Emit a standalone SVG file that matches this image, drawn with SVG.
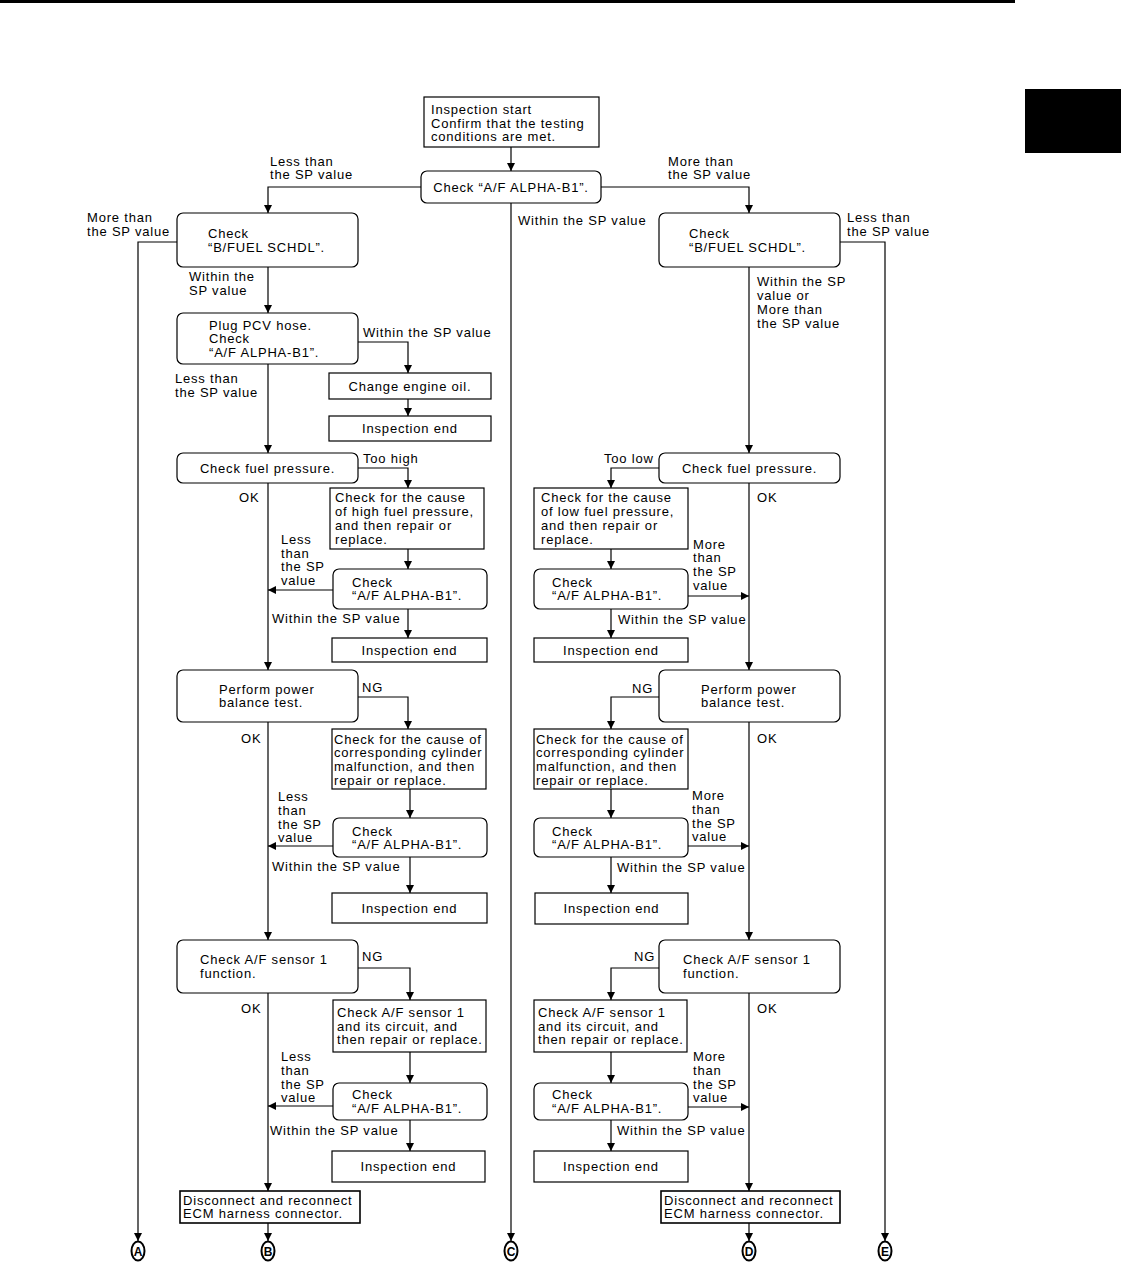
<svg xmlns="http://www.w3.org/2000/svg" width="1121" height="1283" viewBox="0 0 1121 1283">
<style>
.n{fill:#fff;stroke:#000;stroke-width:1.2}
.r{fill:#fff;stroke:#000;stroke-width:1.2}
.d{fill:#fff;stroke:#000;stroke-width:1.6}
text{font-family:"Liberation Sans",Arial,sans-serif;font-size:13px;letter-spacing:0.8px;fill:#000}
.c{text-anchor:middle}
.l{fill:none;stroke:#000;stroke-width:1.2}
.circ{fill:#fff;stroke:#000;stroke-width:2}
.let{font-weight:bold;font-size:12px;letter-spacing:0;text-anchor:middle}
</style>
<defs>
<marker id="ah" viewBox="0 0 10 10" refX="10" refY="5" markerUnits="userSpaceOnUse" markerWidth="8" markerHeight="8" orient="auto">
<path d="M0,0 L10,5 L0,10 z" fill="#000"/>
</marker>
</defs>
<rect x="0" y="0" width="1015" height="3" fill="#000"/>
<rect x="1025" y="89" width="96" height="64" fill="#000"/>

<g id="connectors" class="l" marker-end="url(#ah)">
<path d="M511,147 V171"/>
<path d="M421,187 H268 V213"/>
<path d="M601,187 H749 V213"/>
<path d="M511,203 V1241"/>
<path d="M177,242 H138 V1241"/>
<path d="M268,267 V313"/>
<path d="M358,342 H408 V373"/>
<path d="M268,364 V453"/>
<path d="M408,399 V416"/>
<path d="M358,468 H408 V488"/>
<path d="M268,483 V670"/>
<path d="M408,549 V569"/>
<path d="M333,590 H268"/>
<path d="M408,609 V638"/>
<path d="M358,697 H408 V729"/>
<path d="M268,722 V940"/>
<path d="M410,789 V818"/>
<path d="M333,846 H268"/>
<path d="M410,857 V893"/>
<path d="M358,968 H410 V1000"/>
<path d="M268,993 V1191"/>
<path d="M410,1052 V1083"/>
<path d="M333,1106 H268"/>
<path d="M410,1120 V1151"/>
<path d="M268,1223 V1241"/>
<path d="M840,242 H885 V1241"/>
<path d="M749,267 V453"/>
<path d="M659,468 H611 V488"/>
<path d="M749,483 V670"/>
<path d="M611,549 V569"/>
<path d="M688,596 H749"/>
<path d="M611,609 V638"/>
<path d="M659,697 H611 V729"/>
<path d="M749,722 V940"/>
<path d="M611,789 V818"/>
<path d="M688,846 H749"/>
<path d="M611,857 V893"/>
<path d="M659,968 H611 V1000"/>
<path d="M749,993 V1191"/>
<path d="M611,1052 V1083"/>
<path d="M688,1107 H749"/>
<path d="M611,1120 V1151"/>
<path d="M749,1223 V1241"/>
</g>

<g id="labels">
<text x="270" y="166">Less than</text><text x="270" y="179">the SP value</text>
<text x="668" y="166">More than</text><text x="668" y="179">the SP value</text>
<text x="518" y="225">Within the SP value</text>
<text x="87" y="222">More than</text><text x="87" y="236">the SP value</text>
<text x="189" y="281">Within the</text><text x="189" y="295">SP value</text>
<text x="847" y="222">Less than</text><text x="847" y="236">the SP value</text>
<text x="757" y="286">Within the SP</text><text x="757" y="300">value or</text><text x="757" y="314">More than</text><text x="757" y="328">the SP value</text>
<text x="363" y="337">Within the SP value</text>
<text x="175" y="383">Less than</text><text x="175" y="397">the SP value</text>
<text x="363" y="463">Too high</text>
<text x="239" y="502">OK</text>
<text x="604" y="463">Too low</text>
<text x="757" y="502">OK</text>
<text x="281" y="544">Less</text><text x="281" y="558">than</text><text x="281" y="571">the SP</text><text x="281" y="585">value</text>
<text x="272" y="623">Within the SP value</text>
<text x="693" y="549">More</text><text x="693" y="562">than</text><text x="693" y="576">the SP</text><text x="693" y="590">value</text>
<text x="618" y="624">Within the SP value</text>
<text x="362" y="692">NG</text><text x="241" y="743">OK</text>
<text x="632" y="693">NG</text><text x="757" y="743">OK</text>
<text x="278" y="801">Less</text><text x="278" y="815">than</text><text x="278" y="829">the SP</text><text x="278" y="842">value</text>
<text x="272" y="871">Within the SP value</text>
<text x="692" y="800">More</text><text x="692" y="814">than</text><text x="692" y="828">the SP</text><text x="692" y="841">value</text>
<text x="617" y="872">Within the SP value</text>
<text x="362" y="961">NG</text><text x="241" y="1013">OK</text>
<text x="634" y="961">NG</text><text x="757" y="1013">OK</text>
<text x="281" y="1061">Less</text><text x="281" y="1075">than</text><text x="281" y="1089">the SP</text><text x="281" y="1102">value</text>
<text x="270" y="1135">Within the SP value</text>
<text x="693" y="1061">More</text><text x="693" y="1075">than</text><text x="693" y="1089">the SP</text><text x="693" y="1102">value</text>
<text x="617" y="1135">Within the SP value</text>
</g>

<g id="start"><rect class="r" x="424" y="97" width="175" height="50"/>
<text x="431" y="114">Inspection start</text><text x="431" y="127.5">Confirm that the testing</text><text x="431" y="141">conditions are met.</text></g>
<g id="chk0"><rect class="n" x="421" y="171" width="180" height="32" rx="6"/>
<text class="c" x="511" y="191.5">Check “A/F ALPHA-B1”.</text></g>

<g id="bfL"><rect class="n" x="177" y="213" width="181" height="54" rx="6"/>
<text x="208" y="238">Check</text><text x="208" y="251.5">“B/FUEL SCHDL”.</text></g>
<g id="pcv"><rect class="n" x="177" y="313" width="181" height="51" rx="6"/>
<text x="209" y="329.5">Plug PCV hose.</text><text x="209" y="343">Check</text><text x="209" y="356.5">“A/F ALPHA-B1”.</text></g>
<g id="oil"><rect class="r" x="329" y="373" width="162" height="26"/>
<text class="c" x="410" y="390.5">Change engine oil.</text></g>
<g id="end1"><rect class="r" x="329" y="416" width="162" height="25"/>
<text class="c" x="410" y="433">Inspection end</text></g>
<g id="fpL"><rect class="n" x="177" y="453" width="181" height="30" rx="6"/>
<text class="c" x="267.5" y="472.5">Check fuel pressure.</text></g>
<g id="hiFP"><rect class="r" x="330" y="488" width="154" height="61"/>
<text x="335" y="502">Check for the cause</text><text x="335" y="516">of high fuel pressure,</text><text x="335" y="530">and then repair or</text><text x="335" y="544">replace.</text></g>
<g id="chkL1"><rect class="n" x="333" y="569" width="154" height="40" rx="6"/>
<text x="352" y="586.8">Check</text><text x="352" y="600.3">“A/F ALPHA-B1”.</text></g>
<g id="endL1"><rect class="r" x="332" y="638" width="155" height="24"/>
<text class="c" x="409.5" y="654.5">Inspection end</text></g>
<g id="pbL"><rect class="n" x="177" y="670" width="181" height="52" rx="6"/>
<text x="219" y="693.8">Perform power</text><text x="219" y="707.3">balance test.</text></g>
<g id="cylL"><rect class="r" x="332" y="729" width="154" height="60"/>
<text x="334" y="743.5">Check for the cause of</text><text x="334" y="757.3">corresponding cylinder</text><text x="334" y="771">malfunction, and then</text><text x="334" y="785">repair or replace.</text></g>
<g id="chkL2"><rect class="n" x="333" y="818" width="154" height="39" rx="6"/>
<text x="352" y="835.5">Check</text><text x="352" y="849">“A/F ALPHA-B1”.</text></g>
<g id="endL2"><rect class="r" x="332" y="893" width="155" height="30"/>
<text class="c" x="409.5" y="912.5">Inspection end</text></g>
<g id="afL"><rect class="n" x="177" y="940" width="181" height="53" rx="6"/>
<text x="200" y="964">Check A/F sensor 1</text><text x="200" y="977.5">function.</text></g>
<g id="sensL"><rect class="r" x="333" y="1000" width="153" height="52"/>
<text x="337" y="1016.7">Check A/F sensor 1</text><text x="337" y="1030.5">and its circuit, and</text><text x="337" y="1044.3">then repair or replace.</text></g>
<g id="chkL3"><rect class="n" x="333" y="1083" width="154" height="37" rx="6"/>
<text x="352" y="1099">Check</text><text x="352" y="1112.5">“A/F ALPHA-B1”.</text></g>
<g id="endL3"><rect class="r" x="332" y="1151" width="153" height="31"/>
<text class="c" x="408.5" y="1171">Inspection end</text></g>
<g id="discL"><rect class="d" x="180" y="1191" width="180" height="32"/>
<text x="183" y="1204.5">Disconnect and reconnect</text><text x="183" y="1218">ECM harness connector.</text></g>

<g id="bfR"><rect class="n" x="659" y="213" width="181" height="54" rx="6"/>
<text x="689" y="238">Check</text><text x="689" y="251.5">“B/FUEL SCHDL”.</text></g>
<g id="fpR"><rect class="n" x="659" y="453" width="181" height="30" rx="6"/>
<text class="c" x="749.5" y="472.5">Check fuel pressure.</text></g>
<g id="loFP"><rect class="r" x="534" y="488" width="154" height="61"/>
<text x="541" y="502">Check for the cause</text><text x="541" y="516">of low fuel pressure,</text><text x="541" y="530">and then repair or</text><text x="541" y="544">replace.</text></g>
<g id="chkR1"><rect class="n" x="534" y="569" width="154" height="40" rx="6"/>
<text x="552" y="586.8">Check</text><text x="552" y="600.3">“A/F ALPHA-B1”.</text></g>
<g id="endR1"><rect class="r" x="534" y="638" width="154" height="24"/>
<text class="c" x="611" y="654.5">Inspection end</text></g>
<g id="pbR"><rect class="n" x="659" y="670" width="181" height="52" rx="6"/>
<text x="701" y="693.8">Perform power</text><text x="701" y="707.3">balance test.</text></g>
<g id="cylR"><rect class="r" x="534" y="729" width="154" height="60"/>
<text x="536" y="743.5">Check for the cause of</text><text x="536" y="757.3">corresponding cylinder</text><text x="536" y="771">malfunction, and then</text><text x="536" y="785">repair or replace.</text></g>
<g id="chkR2"><rect class="n" x="534" y="818" width="154" height="39" rx="6"/>
<text x="552" y="835.5">Check</text><text x="552" y="849">“A/F ALPHA-B1”.</text></g>
<g id="endR2"><rect class="r" x="535" y="893" width="153" height="31"/>
<text class="c" x="611.5" y="912.5">Inspection end</text></g>
<g id="afR"><rect class="n" x="659" y="940" width="181" height="53" rx="6"/>
<text x="683" y="964">Check A/F sensor 1</text><text x="683" y="977.5">function.</text></g>
<g id="sensR"><rect class="r" x="534" y="1000" width="153" height="52"/>
<text x="538" y="1016.7">Check A/F sensor 1</text><text x="538" y="1030.5">and its circuit, and</text><text x="538" y="1044.3">then repair or replace.</text></g>
<g id="chkR3"><rect class="n" x="534" y="1083" width="154" height="37" rx="6"/>
<text x="552" y="1099">Check</text><text x="552" y="1112.5">“A/F ALPHA-B1”.</text></g>
<g id="endR3"><rect class="r" x="534" y="1151" width="154" height="31"/>
<text class="c" x="611" y="1171">Inspection end</text></g>
<g id="discR"><rect class="d" x="661" y="1191" width="179" height="32"/>
<text x="664" y="1204.5">Disconnect and reconnect</text><text x="664" y="1218">ECM harness connector.</text></g>

<g id="termA"><ellipse class="circ" cx="138" cy="1251" rx="6.5" ry="9.5"/><text class="let" x="138" y="1255.5">A</text></g>
<g id="termB"><ellipse class="circ" cx="268" cy="1251" rx="6.5" ry="9.5"/><text class="let" x="268" y="1255.5">B</text></g>
<g id="termC"><ellipse class="circ" cx="511" cy="1251" rx="6.5" ry="9.5"/><text class="let" x="511" y="1255.5">C</text></g>
<g id="termD"><ellipse class="circ" cx="749" cy="1251" rx="6.5" ry="9.5"/><text class="let" x="749" y="1255.5">D</text></g>
<g id="termE"><ellipse class="circ" cx="885" cy="1251" rx="6.5" ry="9.5"/><text class="let" x="885" y="1255.5">E</text></g>
</svg>
